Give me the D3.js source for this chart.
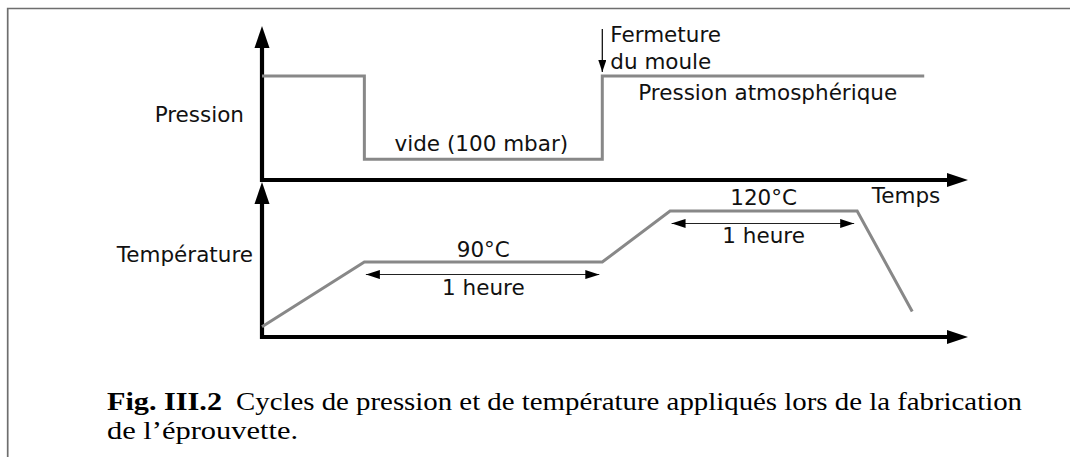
<!DOCTYPE html>
<html>
<head>
<meta charset="utf-8">
<script src="https://cdn.jsdelivr.net/npm/d3@7"></script>
<style>
  html, body { margin: 0; padding: 0; background: #fff; }
  svg { display: block; }
</style>
</head>
<body>
<script>
// Schematic process cycle: time in arbitrary units (100 = tip of the time arrow)
const pressureTimes  = [0, 14.5, 48.2, 93.8];
const pressureLevels = [1, 0.2, 1, 1];          // relative level: 1 = atmospheric, 0.2 = vacuum
const tempTimes  = [0, 14.5, 48.2, 57.8, 84.3, 92.1];
const tempValues = [52, 90, 90, 120, 120, 61];  // °C (schematic)

const plateauStarts  = [14.5, 57.8];
const plateauEnds    = [48.2, 84.3];
const plateauTemps   = [90, 120];
const plateauLabels  = ["90°C", "120°C"];
const durationLabels = ["1 heure", "1 heure"];

const closingTime = 48.2;   // mould closed when the vacuum is released

const W = 1070, H = 457;
const sans = "'DejaVu Sans', sans-serif";
const serif = "'Liberation Serif', 'DejaVu Serif', serif";
const grey = "#888888";

const svg = d3.select("body").append("svg")
  .attr("width", W).attr("height", H)
  .attr("viewBox", `0 0 ${W} ${H}`);

// arrowhead markers
const defs = svg.append("defs");
defs.append("marker")
  .attr("id", "dim-head")
  .attr("viewBox", "0 0 14 9")
  .attr("refX", 14).attr("refY", 4.5)
  .attr("markerWidth", 14).attr("markerHeight", 9)
  .attr("markerUnits", "userSpaceOnUse")
  .attr("orient", "auto-start-reverse")
  .append("path").attr("d", "M0,0L14,4.5L0,9Z").attr("fill", "#000");
defs.append("marker")
  .attr("id", "small-head")
  .attr("viewBox", "0 0 12 8")
  .attr("refX", 12).attr("refY", 4)
  .attr("markerWidth", 12).attr("markerHeight", 8)
  .attr("markerUnits", "userSpaceOnUse")
  .attr("orient", "auto")
  .append("path").attr("d", "M0,0L12,4L0,8Z").attr("fill", "#000");

// frame
svg.append("path")
  .attr("d", "M7.7,457V8.5H1070")
  .attr("fill", "none").attr("stroke", "#6e6e6e").attr("stroke-width", 1.7);

// scales
const x  = d3.scaleLinear().domain([0, 100]).range([262, 968]);
const yP = d3.scaleLinear().domain([0, 1.48]).range([180, 26]);
const yT = d3.scaleLinear().domain([46, 137]).range([337, 182]);

const headLen = 21, headHalf = 7;

function drawAxes(yScale) {
  const [y0, yTop] = yScale.range();
  const x0 = x(0), xEnd = x.range()[1];
  svg.append("path")
    .attr("d", `M${x0},${yTop + headLen}V${y0}H${xEnd - headLen}`)
    .attr("fill", "none").attr("stroke", "#000")
    .attr("stroke-width", 4.2).attr("stroke-linejoin", "miter");
  // vertical arrowhead
  svg.append("path")
    .attr("d", `M${x0},${yTop}L${x0 + headHalf + 0.5},${yTop + headLen + 1}L${x0 - headHalf - 0.5},${yTop + headLen + 1}Z`)
    .attr("fill", "#000");
  // horizontal arrowhead
  svg.append("path")
    .attr("d", `M${xEnd},${y0}L${xEnd - headLen},${y0 - headHalf}L${xEnd - headLen},${y0 + headHalf}Z`)
    .attr("fill", "#000");
}
drawAxes(yP);
drawAxes(yT);

// pressure curve
const pressureLine = d3.line()
  .x((d, i) => x(pressureTimes[i]))
  .y(d => yP(d))
  .curve(d3.curveStepAfter);
svg.append("path")
  .attr("d", pressureLine(pressureLevels))
  .attr("fill", "none").attr("stroke", grey)
  .attr("stroke-width", 3).attr("stroke-linejoin", "miter");

// temperature curve
const tempLine = d3.line()
  .x((d, i) => x(tempTimes[i]))
  .y(d => yT(d));
svg.append("path")
  .attr("d", tempLine(tempValues))
  .attr("fill", "none").attr("stroke", grey)
  .attr("stroke-width", 3).attr("stroke-linejoin", "miter");

// axis titles
const label = (txt, px, py, anchor) => svg.append("text")
  .attr("x", px).attr("y", py)
  .attr("text-anchor", anchor || "start")
  .attr("font-family", sans).attr("font-size", 21.5)
  .attr("fill", "#111").text(txt);

label("Pression", 244, 122, "end");
label("Température", 253, 262, "end");
label("Temps", 906, 203, "middle");

// pressure annotations
label("vide (100 mbar)", (x(pressureTimes[1]) + x(pressureTimes[2])) / 2 - 2, yP(pressureLevels[1]) - 8.5, "middle");
label("Pression atmosphérique", x(closingTime) + 36, yP(1) + 24, "start");
label("Fermeture", x(closingTime) + 8, 42, "start");
label("du moule", x(closingTime) + 8, 69, "start");

svg.append("line")
  .attr("x1", x(closingTime)).attr("x2", x(closingTime))
  .attr("y1", 29).attr("y2", 72)
  .attr("stroke", "#000").attr("stroke-width", 1.2)
  .attr("marker-end", "url(#small-head)");

// plateau annotations
plateauTemps.forEach((t, i) => {
  const xa = x(plateauStarts[i]), xb = x(plateauEnds[i]);
  const yy = yT(t);
  const xc = (xa + xb) / 2;
  label(plateauLabels[i], xc, yy - 5.5, "middle");
  svg.append("line")
    .attr("x1", xa + 1.5).attr("x2", xb - 3)
    .attr("y1", yy + 12.5).attr("y2", yy + 12.5)
    .attr("stroke", "#222").attr("stroke-width", 1.1)
    .attr("marker-start", "url(#dim-head)")
    .attr("marker-end", "url(#dim-head)");
  label(durationLabels[i], xc, yy + 32.5, "middle");
});

// caption
const cap1 = svg.append("text")
  .attr("x", 107).attr("y", 410)
  .attr("font-family", serif).attr("font-size", 25).attr("fill", "#000");
cap1.append("tspan").attr("font-weight", "bold").text("Fig. III.2")
  .attr("textLength", 115).attr("lengthAdjust", "spacingAndGlyphs");
cap1.append("tspan").attr("x", 236)
  .text("Cycles de pression et de température appliqués lors de la fabrication")
  .attr("textLength", 786).attr("lengthAdjust", "spacingAndGlyphs");

svg.append("text")
  .attr("x", 107).attr("y", 439)
  .attr("font-family", serif).attr("font-size", 25).attr("fill", "#000")
  .attr("textLength", 191).attr("lengthAdjust", "spacingAndGlyphs")
  .text("de l’éprouvette.");
</script>
</body>
</html>
